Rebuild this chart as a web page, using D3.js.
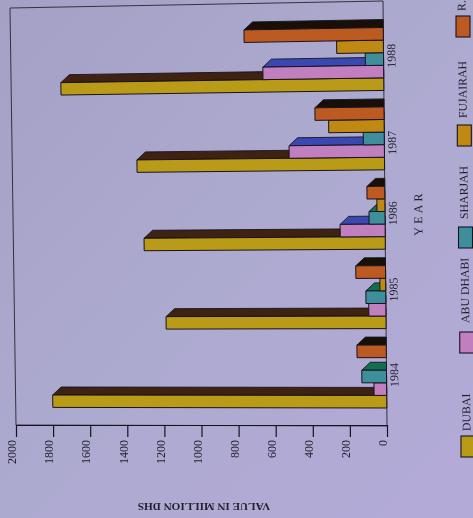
<!DOCTYPE html>
<html><head><meta charset="utf-8">
<script src="https://cdn.jsdelivr.net/npm/d3@7/dist/d3.min.js"></script>
<style>html,body{margin:0;padding:0;background:#aba8cd;overflow:hidden}svg{display:block;filter:blur(0.45px)}</style>
</head><body><svg id="c" width="473" height="518"></svg>
<script>
const years = ["1984","1985","1986","1987","1988"];
const seriesNames = ["DUBAI","ABU DHABI","SHARJAH","FUJAIRAH","R."];
const dubai = [1800,1184,1297,1330,1733];
const abuDhabi = [68,92,242,512,648];
const sharjah = [133,107,86,113,98];
const fujairah = [0,31,43,298,251];
const rak = [158,160,96,371,747];
const valueTicks = [0,200,400,600,800,1000,1200,1400,1600,1800,2000];
const seriesValues = [dubai,abuDhabi,sharjah,fujairah,rak];
const frontColors = ["#b99b18","#c27fc0","#3f8e9c","#c08a12","#bd5a22"];
const sideColors = ["#3f2212","#3a48b2","#136e50","#4a3208","#181008"];
const yearLabelShift = [-1.5,-7.5,-4.5,4.5,-3];
const legendTop = [436,332,227,125,16];
const legendGap = [5,9,8,7,5];

const W=473,H=518;
const svg=d3.select("#c");
const defs=svg.append("defs");
const g=defs.append("linearGradient").attr("id","bg").attr("x1","0%").attr("y1","0%").attr("x2","100%").attr("y2","100%");
g.append("stop").attr("offset","0%").attr("stop-color","#a5a0c5");
g.append("stop").attr("offset","50%").attr("stop-color","#adaad0");
g.append("stop").attr("offset","100%").attr("stop-color","#b4aad8");
svg.append("rect").attr("width",W).attr("height",H).attr("fill","url(#bg)");

const TL=[10,8],TR=[383,1],BR=[387,426],BL=[16,425];
const x=d3.scaleLinear().domain([0,2000]).range([387,16]);
const yYear=d3.scaleBand().domain(years).range([416.25,19.25]).paddingInner(0.2075).paddingOuter(0.104);
const ySeries=d3.scaleBand().domain(seriesNames).range([yYear.bandwidth(),0]);
function warp(px,py){
  const u=(387-px)/371, v=(py-1)/425;
  const rx=TR[0]+(BR[0]-TR[0])*v, ry=TR[1]+(BR[1]-TR[1])*v;
  const lx=TL[0]+(BL[0]-TL[0])*v, ly=TL[1]+(BL[1]-TL[1])*v;
  return [rx+(lx-rx)*u, ry+(ly-ry)*u];
}
const line=d3.line();
const ink="#16141f";
const textInk="#201f2c";
// frame
svg.append("path").attr("d",line([TL,TR,BR,BL])+"Z").attr("fill","none").attr("stroke","#33323f").attr("stroke-width",1);
// bars
const depthX=8.5,depthY=8;
const gBars=svg.append("g");
years.forEach((yr,i)=>{
  seriesNames.forEach((name,s)=>{
    const val=seriesValues[s][i];
    if(!val) return;
    const y0=yYear(yr)+ySeries(name), y1=y0+ySeries.bandwidth();
    const a=x(val), b=x(0);
    const p=warp(a,y0), q=warp(b,y0);
    const tipX=Math.min(p[0]+depthX,q[0]);
    const side=[p,[tipX,p[1]-depthY],[q[0],q[1]-depthY],q];
    gBars.append("path").attr("d",line(side)+"Z").attr("fill",sideColors[s]).attr("stroke",ink).attr("stroke-width",0.9).attr("stroke-linejoin","round");
    gBars.append("path").attr("d",line([p,q,warp(b,y1),warp(a,y1)])+"Z").attr("fill",frontColors[s]).attr("stroke",ink).attr("stroke-width",1);
  });
});
// value axis
const axis=d3.axisBottom(x).tickValues(valueTicks).tickSize(12).tickSizeOuter(0).tickFormat(d3.format("d"));
const ax=svg.append("g").attr("transform","translate(0,425)").call(axis);
ax.select(".domain").attr("stroke",ink).attr("stroke-width",1.2);
ax.selectAll(".tick line").attr("stroke",ink).attr("stroke-width",1.2);
ax.selectAll(".tick text")
  .attr("font-family","'Liberation Serif',serif").attr("font-size",12).attr("fill",textInk)
  .attr("text-anchor","end").attr("y",0).attr("dy",0)
  .attr("transform","translate(-3,15) rotate(-90)").attr("dominant-baseline","middle");
// year labels
years.forEach((yr,i)=>{
  const c=yYear(yr)+yYear.bandwidth()/2+yearLabelShift[i];
  const p=warp(x(0)+9,c);
  svg.append("text").attr("transform",`translate(${p[0]},${p[1]}) rotate(-90.7)`)
    .attr("text-anchor","middle").attr("dominant-baseline","middle")
    .attr("font-family","'Liberation Serif',serif").attr("font-size",12).attr("fill",textInk).text(yr);
});
// axis titles
svg.append("text").attr("transform","translate(419.5,213) rotate(-90.5)")
  .attr("text-anchor","middle").attr("dominant-baseline","middle")
  .attr("font-family","'Liberation Serif',serif").attr("font-size",12).attr("letter-spacing",3.2).attr("fill",textInk).text("YEAR");
svg.append("text").attr("transform","translate(204,506) rotate(180)")
  .attr("text-anchor","middle").attr("dominant-baseline","middle")
  .attr("font-family","'Liberation Serif',serif").attr("font-size",11.2).attr("font-weight",700).attr("fill",textInk).text("VALUE IN MILLION DHS");
// legend
const legX=y=>461-(446-y)*5/420;
seriesNames.forEach((n,i)=>{
  const t=legendTop[i], sx=legX(t+10);
  svg.append("rect").attr("x",sx).attr("y",t).attr("width",14).attr("height",21)
    .attr("fill",frontColors[i]).attr("stroke",ink).attr("stroke-width",1.1);
  const ly=t-legendGap[i];
  svg.append("text").attr("transform",`translate(${legX(ly)+7},${ly}) rotate(-90.7)`)
    .attr("dominant-baseline","middle")
    .attr("font-family","'Liberation Serif',serif").attr("font-size",11.8).attr("fill",textInk).text(n);
});
</script></body></html>
